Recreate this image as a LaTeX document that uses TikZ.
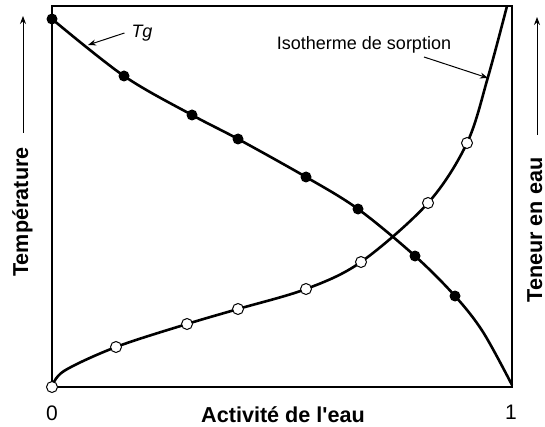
\documentclass[tikz,border=0pt]{standalone}
\usepackage{fontspec}
\setmainfont{Liberation Sans}
\usetikzlibrary{arrows.meta}

\tikzset{
    tgdot/.style = {circle, fill=black, inner sep=0pt, minimum size=5.5pt},
    isodot/.style = {circle, draw=black, line width=0.5pt, fill=white, inner sep=0pt, minimum size=5.5pt},
    axistitle/.style = {font=\bfseries\fontsize{10.8}{12}\selectfont},
    curvelabel/.style = {font=\fontsize{9}{11}\selectfont},
}

\begin{document}
\begin{tikzpicture}[x=0.5pt, y=-0.5pt]
    \useasboundingbox (0,0) rectangle (545,427);
    % frame
    \draw[line width=0.6pt] (52,6) rectangle (512,387);
    % curves
    \draw[line width=1.3pt] plot[smooth, tension=0.55] coordinates {(52,19) (124,76) (192,115) (238,139) (306,177) (358,209) (415,256) (455,296) (483,332) (512,385)};
    \draw[line width=1.3pt] plot[smooth, tension=0.55] coordinates {(52,387) (64,371) (116,347) (187,324) (238,309) (306,289) (361,262) (428,203) (467,143) (488,77) (507,6)};
    % points
    \foreach \x/\y [count=\i] in {52/19, 124/76, 192/115, 238/139, 306/177, 358/209, 415/256, 455/296}
    \node[tgdot] (tg\i) at (\x,\y) {};
    \foreach \x/\y [count=\i] in {52/387, 116/347, 187/324, 238/309, 306/289, 361/262, 428/203, 467/143}
    \node[isodot] (iso\i) at (\x,\y) {};
    % labels on the curves
    \node[curvelabel, font=\itshape\fontsize{9}{11}\selectfont] (tglabel) at (142,33) {Tg};
    \coordinate (tgtip) at (88,45);
    \draw[line width=0.5pt, -{Stealth[length=4pt, width=3pt]}] (tglabel.west) -- (tgtip);
    \node[curvelabel] (isolabel) at (364,45) {Isotherme de sorption};
    \coordinate (isotail) at (424,57);
    \coordinate (isotip) at (488,78);
    \draw[line width=0.5pt, -{Stealth[length=4pt, width=3pt]}] (isotail) -- (isotip);
    % axes
    \node at (52,413) (zero) {\fontsize{10.5}{12}\selectfont 0};
    \node at (511,412) (one) {\fontsize{10.5}{12}\selectfont 1};
    \node[axistitle] (xtitle) at (283,415) {Activité de l\textquotesingle eau};
    \coordinate (tbot) at (23,133);
    \coordinate (ttop) at (23,16);
    \draw[line width=0.5pt, -{Stealth[length=4pt, width=3pt]}] (tbot) -- (ttop);
    \node[axistitle, rotate=90, anchor=base, inner sep=0pt] (temp) at (28,212) {Température};
    \coordinate (wbot) at (537,135);
    \coordinate (wtop) at (537,17);
    \draw[line width=0.5pt, -{Stealth[length=4pt, width=3pt]}] (wbot) -- (wtop);
    \node[axistitle, rotate=90, anchor=base, inner sep=0pt] (water) at (542,230) {Teneur en eau};
\end{tikzpicture}
\end{document}
